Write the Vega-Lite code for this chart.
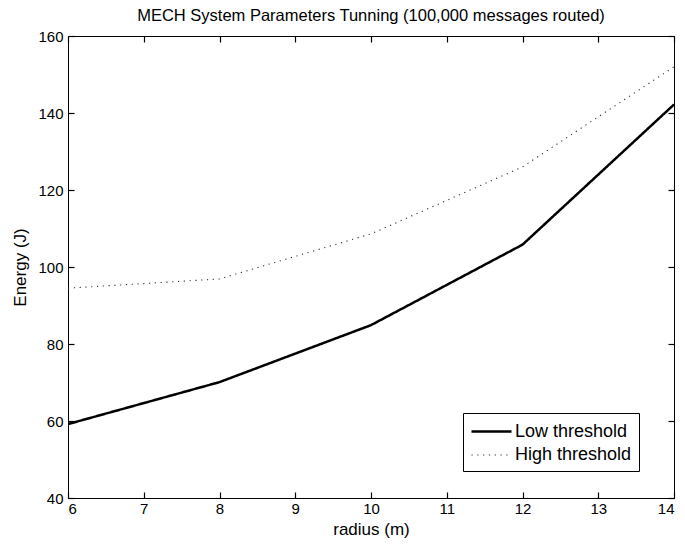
{
  "$schema": "https://vega.github.io/schema/vega-lite/v6.json",
  "autosize": {"type": "none"},
  "padding": {"left": 68, "top": 36, "right": 11, "bottom": 50},
  "width": 606,
  "height": 462,
  "background": "white",
  "title": {
    "text": "MECH System Parameters Tunning (100,000 messages routed)",
    "font": "Liberation Sans",
    "fontSize": 16.5,
    "fontWeight": "normal",
    "color": "black",
    "offset": 5,
    "anchor": "middle"
  },
  "config": {
    "view": {"stroke": "black", "strokeWidth": 1},
    "axis": {
      "grid": false,
      "domain": false,
      "ticks": true,
      "tickColor": "black",
      "labelFont": "Liberation Sans",
      "labelFontSize": 15,
      "labelColor": "black",
      "titleFont": "Liberation Sans",
      "titleFontSize": 17,
      "titleFontWeight": "normal",
      "titleColor": "black"
    }
  },
  "data": {
    "values": [
      {"radius": 6, "energy": 59.2, "series": "Low threshold"},
      {"radius": 8, "energy": 70.1, "series": "Low threshold"},
      {"radius": 10, "energy": 84.9, "series": "Low threshold"},
      {"radius": 12, "energy": 105.8, "series": "Low threshold"},
      {"radius": 14, "energy": 142.2, "series": "Low threshold"},
      {"radius": 6, "energy": 94.5, "series": "High threshold"},
      {"radius": 8, "energy": 96.9, "series": "High threshold"},
      {"radius": 10, "energy": 108.6, "series": "High threshold"},
      {"radius": 12, "energy": 126.0, "series": "High threshold"},
      {"radius": 14, "energy": 152.0, "series": "High threshold"}
    ]
  },
  "layer": [
    {
      "mark": {"type": "line", "clip": true},
      "encoding": {
        "x": {
          "field": "radius", "type": "quantitative",
          "scale": {"domain": [6, 14], "nice": false, "zero": false},
          "axis": {
            "title": "radius (m)", "values": [6, 7, 8, 9, 10, 11, 12, 13, 14],
            "tickSize": 6, "tickWidth": 1.2, "offset": -6, "zindex": 2,
            "labelPadding": 3, "titlePadding": 5
          }
        },
        "y": {
          "field": "energy", "type": "quantitative",
          "scale": {"domain": [40, 160], "nice": false, "zero": false},
          "axis": {
            "title": "Energy (J)", "values": [40, 60, 80, 100, 120, 140, 160],
            "tickSize": 6, "tickWidth": 1.2, "offset": -6, "zindex": 2,
            "labelPadding": 5, "titlePadding": 8
          }
        },
        "stroke": {
          "field": "series", "type": "nominal",
          "scale": {"domain": ["Low threshold", "High threshold"], "range": ["black", "#333333"]},
          "legend": {
            "title": null,
            "orient": "none",
            "legendX": 395,
            "legendY": 377,
            "fillColor": "white",
            "strokeColor": "black",
            "padding": 7,
            "symbolType": "M-1,0H3",
            "symbolSize": 400,
            "labelFont": "Liberation Sans",
            "labelFontSize": 18,
            "labelColor": "black",
            "labelOffset": 22,
            "rowPadding": 3
          }
        },
        "strokeDash": {
          "field": "series", "type": "nominal",
          "scale": {"domain": ["Low threshold", "High threshold"], "range": [[1, 0], [1.2, 4.6]]}
        },
        "strokeWidth": {
          "field": "series", "type": "nominal",
          "scale": {"domain": ["Low threshold", "High threshold"], "range": [2.5, 1.1]}
        }
      }
    },
    {
      "mark": {"type": "line", "opacity": 0},
      "encoding": {
        "x": {
          "field": "radius", "type": "quantitative",
          "scale": {"domain": [6, 14], "nice": false, "zero": false},
          "axis": {
            "orient": "top", "title": null, "labels": false, "values": [6, 7, 8, 9, 10, 11, 12, 13, 14],
            "tickSize": 6, "tickWidth": 1.2, "offset": -6, "zindex": 2
          }
        },
        "y": {
          "field": "energy", "type": "quantitative",
          "scale": {"domain": [40, 160], "nice": false, "zero": false},
          "axis": {
            "orient": "right", "title": null, "labels": false, "values": [40, 60, 80, 100, 120, 140, 160],
            "tickSize": 6, "tickWidth": 1.2, "offset": -6, "zindex": 2
          }
        },
        "detail": {"field": "series"}
      }
    }
  ],
  "resolve": {"axis": {"x": "independent", "y": "independent"}}
}
